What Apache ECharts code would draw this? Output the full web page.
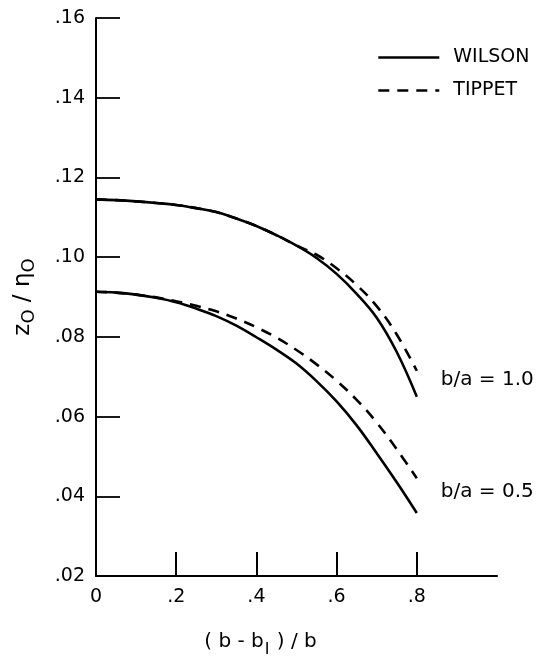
<!DOCTYPE html>
<html>
<head>
<meta charset="utf-8">
<script src="https://cdn.jsdelivr.net/npm/echarts@6/dist/echarts.min.js"></script>
<style>
html,body{margin:0;padding:0;background:#fff;}
#chart{width:546px;height:663px;}
</style>
</head>
<body>
<div id="chart"></div>
<script>
// ---- data ----
const xValues   = [0, 0.05, 0.1, 0.15, 0.2, 0.25, 0.3, 0.35, 0.4, 0.45, 0.5, 0.55, 0.6, 0.65, 0.7, 0.75, 0.8];
const wilson10  = [0.1145, 0.1143, 0.1140, 0.1136, 0.1131, 0.1123, 0.1113, 0.1097, 0.1078, 0.1055, 0.1029, 0.0998, 0.0958, 0.0908, 0.0848, 0.0762, 0.0650];
const tippet10  = [0.1145, 0.1143, 0.1140, 0.1136, 0.1131, 0.1123, 0.1113, 0.1097, 0.1078, 0.1055, 0.1029, 0.1006, 0.0972, 0.0930, 0.0877, 0.0806, 0.0715];
const wilson05  = [0.0913, 0.0911, 0.0906, 0.0898, 0.0887, 0.0871, 0.0852, 0.0828, 0.0799, 0.0768, 0.0733, 0.0689, 0.0638, 0.0578, 0.0508, 0.0435, 0.0358];
const tippet05  = [0.0913, 0.0911, 0.0906, 0.0899, 0.0889, 0.0878, 0.0864, 0.0846, 0.0824, 0.0798, 0.0767, 0.0731, 0.0690, 0.0642, 0.0585, 0.0518, 0.0445];
const seriesNames = ['WILSON', 'TIPPET'];
const ratioLabels = ['b/a = 1.0', 'b/a = 0.5'];
const xTickValues = [0.2, 0.4, 0.6, 0.8];
const xLabelValues = [0, 0.2, 0.4, 0.6, 0.8];

const FONT = 'DejaVu Sans';
const pairs = ys => xValues.map((x, i) => [x, ys[i]]);
const fmtX = v => (Math.abs(v) < 1e-9 ? '0' : v.toFixed(1).replace(/^0/, ''));
const fmtY = v => v.toFixed(2).replace(/^0/, '');

const chart = echarts.init(document.getElementById('chart'), null, {renderer: 'canvas'});

function lineSeries(name, data, dashed) {
  return {
    name: name,
    type: 'line',
    data: data,
    smooth: 0.4,
    symbol: 'none',
    silent: true,
    lineStyle: {color: '#000', width: 2.6, type: dashed ? [11, 8] : 'solid'},
    itemStyle: {color: '#000'}
  };
}

chart.setOption({
  animation: false,
  backgroundColor: '#fff',
  grid: {left: 96, right: 49, top: 18, bottom: 85},
  legend: {
    data: seriesNames,
    orient: 'vertical',
    left: 372,
    top: 43,
    itemWidth: 61,
    itemHeight: 22,
    itemGap: 14,
    selectedMode: false,
    itemStyle: {opacity: 0},
    lineStyle: {width: 2.6},
    textStyle: {fontFamily: FONT, fontSize: 19, color: '#000', padding: [0, 0, 0, 9]}
  },
  xAxis: {
    type: 'value',
    min: 0, max: 1.0, interval: 0.2,
    name: '( b - b{s|I} ) / b',
    nameLocation: 'middle',
    nameGap: 50,
    nameTextStyle: {
      fontFamily: FONT, fontSize: 20, color: '#000', padding: [0, 72, 0, 0],
      rich: {s: {fontFamily: FONT, fontSize: 16, color: '#000', padding: [16, 1, 0, 1]}}
    },
    splitLine: {show: false},
    axisLine: {lineStyle: {color: '#000', width: 2}},
    axisTick: {show: true, inside: true, length: 24, customValues: xTickValues, lineStyle: {color: '#000', width: 2}},
    axisLabel: {customValues: xLabelValues, fontFamily: FONT, fontSize: 19, color: '#000', margin: 12, formatter: fmtX}
  },
  yAxis: {
    type: 'value',
    min: 0.02, max: 0.16, interval: 0.02,
    name: 'z{s|O} / η{s|O}',
    nameLocation: 'middle',
    nameGap: 58,
    nameRotate: 90,
    nameTextStyle: {
      fontFamily: FONT, fontSize: 23, color: '#000',
      rich: {s: {fontFamily: FONT, fontSize: 18, color: '#000', padding: [12, 0, 0, 0]}}
    },
    splitLine: {show: false},
    axisLine: {show: true, lineStyle: {color: '#000', width: 2}},
    axisTick: {show: true, inside: true, length: 24, lineStyle: {color: '#000', width: 1.8}},
    axisLabel: {fontFamily: FONT, fontSize: 19, color: '#000', margin: 11, formatter: fmtY}
  },
  series: [
    lineSeries(seriesNames[0], pairs(wilson10), false),
    lineSeries(seriesNames[1], pairs(tippet10), true),
    lineSeries(seriesNames[0], pairs(wilson05), false),
    lineSeries(seriesNames[1], pairs(tippet05), true)
  ]
});

// ratio labels placed relative to the curve ends
const lastX = xValues[xValues.length - 1];
const ends = [
  (wilson10[wilson10.length - 1] + tippet10[tippet10.length - 1]) / 2,
  (wilson05[wilson05.length - 1] + tippet05[tippet05.length - 1]) / 2
];
chart.setOption({
  graphic: ratioLabels.map((t, i) => {
    const p = chart.convertToPixel({gridIndex: 0}, [lastX, ends[i]]);
    return {
      type: 'text',
      x: p[0] + 24,
      y: p[1] - 4,
      style: {text: t, fontFamily: FONT, fontSize: 20, fill: '#000', verticalAlign: 'middle', align: 'left'}
    };
  })
});
</script>
</body>
</html>
